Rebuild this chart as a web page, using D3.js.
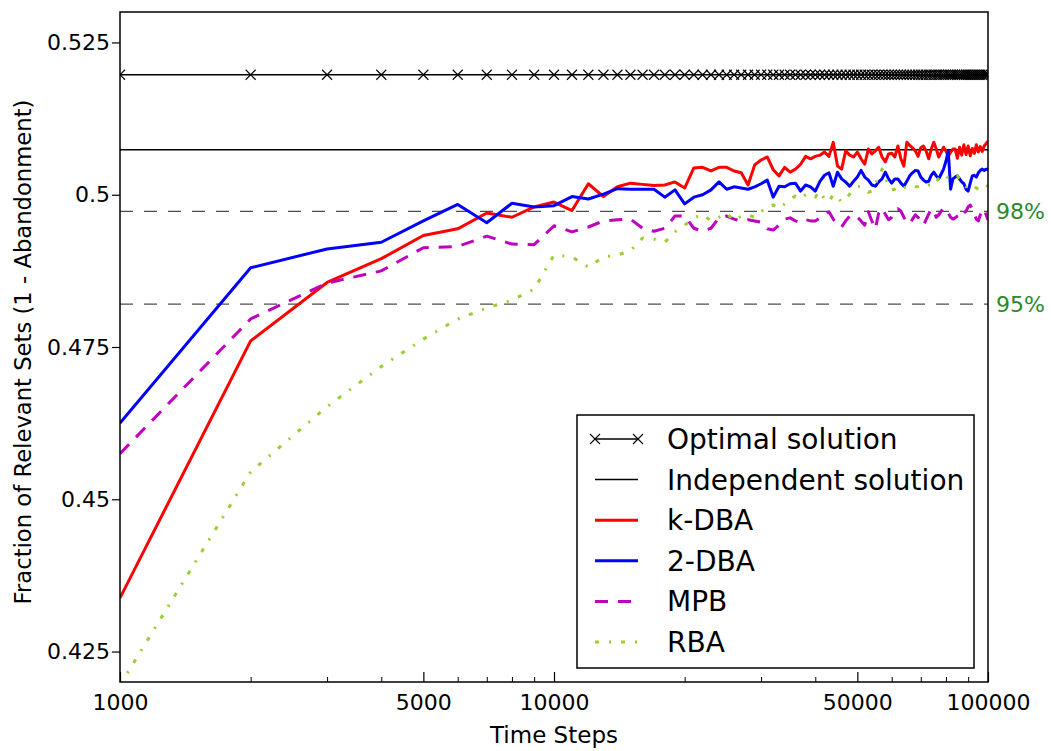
<!DOCTYPE html>
<html>
<head>
<meta charset="utf-8">
<script src="https://cdn.jsdelivr.net/npm/d3@7"></script>
<style>
  body { margin: 0; background: #ffffff; }
  text { font-family: "DejaVu Sans", sans-serif; }
</style>
</head>
<body>
<svg id="chart" width="1051" height="751"></svg>
<script>
// Simulation time steps (one sample every 1000 steps)
const steps = [
  1000, 2000, 3000, 4000, 5000, 6000, 7000, 8000, 9000, 10000,
  11000, 12000, 13000, 14000, 15000, 16000, 17000, 18000, 19000, 20000,
  21000, 22000, 23000, 24000, 25000, 26000, 27000, 28000, 29000, 30000,
  31000, 32000, 33000, 34000, 35000, 36000, 37000, 38000, 39000, 40000,
  41000, 42000, 43000, 44000, 45000, 46000, 47000, 48000, 49000, 50000,
  51000, 52000, 53000, 54000, 55000, 56000, 57000, 58000, 59000, 60000,
  61000, 62000, 63000, 64000, 65000, 66000, 67000, 68000, 69000, 70000,
  71000, 72000, 73000, 74000, 75000, 76000, 77000, 78000, 79000, 80000,
  81000, 82000, 83000, 84000, 85000, 86000, 87000, 88000, 89000, 90000,
  91000, 92000, 93000, 94000, 95000, 96000, 97000, 98000, 99000, 100000
];

// Reference solutions (constant over time)
const optimalValue = 0.5197;
const independentValue = 0.5074;

// Learning algorithms: fraction of relevant sets at each time step
const kDBA = [
  0.4338, 0.4760, 0.4856, 0.4895, 0.4933, 0.4944, 0.4970, 0.4963, 0.4980, 0.4988,
  0.4974, 0.5018, 0.4997, 0.5013, 0.5019, 0.5017, 0.5015, 0.5016, 0.5021, 0.5011,
  0.5044, 0.5045, 0.5039, 0.5045, 0.5045, 0.5039, 0.5036, 0.5016, 0.5049, 0.5057,
  0.5062, 0.5041, 0.5031, 0.5045, 0.5037, 0.5042, 0.5050, 0.5063, 0.5059, 0.5063,
  0.5065, 0.5070, 0.5063, 0.5086, 0.5047, 0.5042, 0.5072, 0.5065, 0.5062, 0.5070,
  0.5059, 0.5050, 0.5075, 0.5067, 0.5072, 0.5078, 0.5062, 0.5054, 0.5067, 0.5068,
  0.5062, 0.5080, 0.5059, 0.5047, 0.5086, 0.5081, 0.5077, 0.5072, 0.5063, 0.5077,
  0.5080, 0.5072, 0.5059, 0.5075, 0.5086, 0.5075, 0.5062, 0.5070, 0.5078, 0.5072,
  0.5063, 0.5070, 0.5075, 0.5075, 0.5060, 0.5078, 0.5065, 0.5082, 0.5066, 0.5080,
  0.5064, 0.5076, 0.5068, 0.5082, 0.5070, 0.5079, 0.5071, 0.5080, 0.5084, 0.5088
];
const twoDBA = [
  0.4625, 0.4880, 0.4911, 0.4922, 0.4957, 0.4984, 0.4954, 0.4986, 0.4980, 0.4982,
  0.4997, 0.4993, 0.5001, 0.5010, 0.5009, 0.5009, 0.5009, 0.4996, 0.5008, 0.4985,
  0.4996, 0.5000, 0.5008, 0.5021, 0.5009, 0.5013, 0.5011, 0.5009, 0.5013, 0.5018,
  0.5024, 0.4996, 0.5014, 0.5013, 0.5018, 0.5019, 0.5006, 0.5016, 0.5013, 0.5006,
  0.5022, 0.5032, 0.5036, 0.5014, 0.5037, 0.5026, 0.5021, 0.5014, 0.5022, 0.5029,
  0.5040, 0.5029, 0.5024, 0.5016, 0.5014, 0.5021, 0.5026, 0.5037, 0.5026, 0.5019,
  0.5026, 0.5026, 0.5019, 0.5014, 0.5022, 0.5031, 0.5036, 0.5040, 0.5039, 0.5029,
  0.5024, 0.5021, 0.5022, 0.5032, 0.5037, 0.5031, 0.5026, 0.5034, 0.5042, 0.5055,
  0.5072, 0.5009, 0.5026, 0.5029, 0.5031, 0.5026, 0.5021, 0.5018, 0.5009, 0.5006,
  0.5019, 0.5031, 0.5032, 0.5029, 0.5036, 0.5040, 0.5042, 0.5040, 0.5042, 0.5042
];
const MPB = [
  0.4575, 0.4796, 0.4855, 0.4875, 0.4913, 0.4915, 0.4932, 0.4919, 0.4918, 0.4949,
  0.4939, 0.4947, 0.4957, 0.4959, 0.4960, 0.4945, 0.4940, 0.4945, 0.4965, 0.4965,
  0.4945, 0.4940, 0.4945, 0.4962, 0.4965, 0.4960, 0.4957, 0.4959, 0.4957, 0.4955,
  0.4944, 0.4942, 0.4950, 0.4960, 0.4962, 0.4957, 0.4954, 0.4959, 0.4957, 0.4957,
  0.4962, 0.4967, 0.4972, 0.4960, 0.4950, 0.4947, 0.4957, 0.4965, 0.4967, 0.4963,
  0.4957, 0.4950, 0.4972, 0.4957, 0.4944, 0.4970, 0.4978, 0.4968, 0.4959, 0.4963,
  0.4970, 0.4977, 0.4973, 0.4963, 0.4955, 0.4952, 0.4960, 0.4967, 0.4963, 0.4957,
  0.4950, 0.4959, 0.4968, 0.4977, 0.4972, 0.4963, 0.4967, 0.4973, 0.4977, 0.4978,
  0.4970, 0.4963, 0.4960, 0.4962, 0.4965, 0.4967, 0.4963, 0.4970, 0.4973, 0.4980,
  0.4983, 0.4977, 0.4967, 0.4960, 0.4957, 0.4967, 0.4973, 0.4977, 0.4967, 0.4959
];
const RBA = [
  0.4195, 0.4545, 0.4652, 0.4718, 0.4763, 0.4796, 0.4814, 0.4827, 0.4845, 0.4901,
  0.4898, 0.4881, 0.4898, 0.4901, 0.4908, 0.4929, 0.4927, 0.4922, 0.4939, 0.4950,
  0.4962, 0.4968, 0.4957, 0.4963, 0.4970, 0.4957, 0.4965, 0.4967, 0.4963, 0.4972,
  0.4981, 0.4983, 0.4977, 0.4985, 0.4993, 0.4998, 0.4993, 0.5000, 0.5001, 0.4996,
  0.5006, 0.4993, 0.4988, 0.5001, 0.4996, 0.4988, 0.4993, 0.5001, 0.5008, 0.5013,
  0.5014, 0.5009, 0.5004, 0.5006, 0.5018, 0.5029, 0.5042, 0.5029, 0.5013, 0.5008,
  0.5009, 0.5013, 0.5009, 0.5011, 0.5014, 0.5016, 0.5014, 0.5013, 0.5013, 0.5014,
  0.5016, 0.5014, 0.5016, 0.5016, 0.5014, 0.5021, 0.5027, 0.5032, 0.5034, 0.5031,
  0.5027, 0.5029, 0.5031, 0.5029, 0.5031, 0.5026, 0.5021, 0.5016, 0.5013, 0.5014,
  0.5018, 0.5014, 0.5013, 0.5011, 0.5009, 0.5011, 0.5014, 0.5013, 0.5016, 0.5013
];

// Reference levels relative to the independent solution
const thresholdLevels = [0.98, 0.95];
const thresholdLabels = ["98%", "95%"];

// Axis ticks
const xMajorTicks = [1000, 5000, 10000, 50000, 100000];
const xMinorTicks = [2000, 3000, 4000, 6000, 7000, 8000, 9000,
                     20000, 30000, 40000, 60000, 70000, 80000, 90000];
const yTicks = [0.425, 0.45, 0.475, 0.5, 0.525];

const svg = d3.select("#chart");
const plot = { left: 120, right: 988, top: 12, bottom: 682 };

const x = d3.scaleLog().domain([1000, 100000]).range([plot.left, plot.right]);
const y = d3.scaleLinear().domain([0.42, 0.53]).range([plot.bottom, plot.top]);

svg.append("rect").attr("width", 1051).attr("height", 751).attr("fill", "#ffffff");

svg.append("defs").append("clipPath").attr("id", "plot-clip")
  .append("rect")
  .attr("x", plot.left).attr("y", plot.top)
  .attr("width", plot.right - plot.left).attr("height", plot.bottom - plot.top);

const area = svg.append("g").attr("clip-path", "url(#plot-clip)");

// Threshold reference lines (dashed) with percentage labels
thresholdLevels.forEach((lvl, i) => {
  const v = lvl * independentValue;
  area.append("line")
    .attr("x1", plot.left).attr("x2", plot.right)
    .attr("y1", y(v)).attr("y2", y(v))
    .attr("stroke", "#4d4d4d").attr("stroke-width", 1.2)
    .attr("stroke-dasharray", "13,11");
  svg.append("text")
    .attr("x", plot.right + 8)
    .attr("y", y(v)).attr("dy", "0.36em")
    .attr("font-size", 22).attr("fill", "#2a8a2a")
    .text(thresholdLabels[i]);
});

const line = d3.line().x(d => x(d[0])).y(d => y(d[1]));

// Optimal solution: line with an x marker at every sample
const optimalPts = steps.map(s => [s, optimalValue]);
area.append("path").attr("d", line(optimalPts))
  .attr("fill", "none").attr("stroke", "#000").attr("stroke-width", 1.5);
const xMark = (g, cx, cy, r) => {
  g.append("path")
    .attr("d", `M${cx - r},${cy - r}L${cx + r},${cy + r}M${cx - r},${cy + r}L${cx + r},${cy - r}`)
    .attr("stroke", "#000").attr("stroke-width", 1.1).attr("fill", "none");
};
optimalPts.forEach(p => xMark(area, x(p[0]), y(p[1]), 5));

// Independent solution
area.append("path").attr("d", line(steps.map(s => [s, independentValue])))
  .attr("fill", "none").attr("stroke", "#000").attr("stroke-width", 1.5);

const series = [
  { name: "k-DBA", values: kDBA, color: "#ff0000", dash: null },
  { name: "2-DBA", values: twoDBA, color: "#0000ff", dash: null },
  { name: "MPB", values: MPB, color: "#bf00bf", dash: "13,10" },
  { name: "RBA", values: RBA, color: "#9acd32", dash: "4,10,2,10" }
];

series.forEach(s => {
  const p = area.append("path")
    .attr("d", line(steps.map((t, i) => [t, s.values[i]])))
    .attr("fill", "none").attr("stroke", s.color).attr("stroke-width", 3)
    .attr("stroke-linejoin", "round");
  if (s.dash) p.attr("stroke-dasharray", s.dash);
});

// Frame
svg.append("rect")
  .attr("x", plot.left).attr("y", plot.top)
  .attr("width", plot.right - plot.left).attr("height", plot.bottom - plot.top)
  .attr("fill", "none").attr("stroke", "#000").attr("stroke-width", 1.5);

// X axis (ticks drawn inward)
const xAxis = svg.append("g").attr("transform", `translate(0,${plot.bottom})`)
  .call(d3.axisBottom(x).tickValues(xMajorTicks).tickFormat(d3.format("d"))
    .tickSizeInner(-10).tickSizeOuter(0).tickPadding(12));
xAxis.select(".domain").remove();
xAxis.selectAll("text").attr("font-size", 22).attr("fill", "#000")
  .style("font-family", "DejaVu Sans");
xAxis.selectAll("line").attr("stroke-width", 1.2);

const xMinor = svg.append("g").attr("transform", `translate(0,${plot.bottom})`)
  .call(d3.axisBottom(x).tickValues(xMinorTicks).tickFormat("")
    .tickSizeInner(-5).tickSizeOuter(0));
xMinor.select(".domain").remove();
xMinor.selectAll("line").attr("stroke-width", 1);

// Y axis
const yAxis = svg.append("g").attr("transform", `translate(${plot.left},0)`)
  .call(d3.axisLeft(y).tickValues(yTicks).tickFormat(d => String(d))
    .tickSizeInner(8).tickSizeOuter(0).tickPadding(2));
yAxis.select(".domain").remove();
yAxis.selectAll("text").attr("font-size", 22).attr("fill", "#000")
  .style("font-family", "DejaVu Sans");
yAxis.selectAll("line").attr("stroke-width", 1.2);

// Axis titles
svg.append("text")
  .attr("x", (plot.left + plot.right) / 2).attr("y", 743)
  .attr("text-anchor", "middle").attr("font-size", 23)
  .text("Time Steps");
svg.append("text")
  .attr("transform", "translate(31,352) rotate(-90)")
  .attr("text-anchor", "middle").attr("font-size", 22.7)
  .text("Fraction of Relevant Sets (1 - Abandonment)");

// Legend
const legend = svg.append("g");
legend.append("rect")
  .attr("x", 577).attr("y", 415).attr("width", 397).attr("height", 253)
  .attr("fill", "#fff").attr("stroke", "#000").attr("stroke-width", 1.5);

const legendItems = [
  { name: "Optimal solution", color: "#000", width: 1.5, dash: null, marker: true },
  { name: "Independent solution", color: "#000", width: 1.5, dash: null },
  ...series.map(s => ({ name: s.name, color: s.color, width: 3, dash: s.dash }))
];
legendItems.forEach((it, i) => {
  const cy = 439 + i * 40.6;
  const l = legend.append("line")
    .attr("x1", 595).attr("x2", 638).attr("y1", cy).attr("y2", cy)
    .attr("stroke", it.color).attr("stroke-width", it.width);
  if (it.dash) l.attr("stroke-dasharray", it.dash);
  if (it.marker) { xMark(legend, 595, cy, 5); xMark(legend, 638, cy, 5); }
  legend.append("text")
    .attr("x", 667).attr("y", cy).attr("dy", "0.36em")
    .attr("font-size", 28).attr("fill", "#000")
    .text(it.name);
});
</script>
</body>
</html>
